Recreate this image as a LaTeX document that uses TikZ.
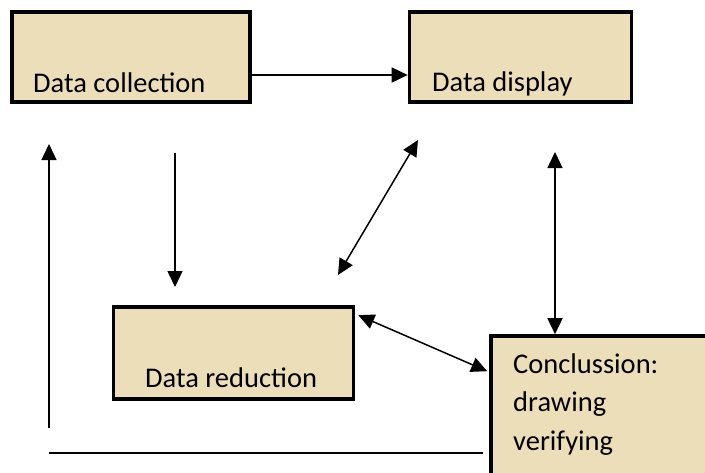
\documentclass[tikz,border=0pt]{standalone}
\usepackage{fontspec}
\setmainfont{Carlito}
\usetikzlibrary{arrows.meta,positioning,calc}
\definecolor{parch}{RGB}{237,222,186}
\definecolor{zw}{RGB}{0,0,0}

\begin{document}
\begin{tikzpicture}[x=1pt,y=-1pt,
    box/.style={draw=zw,fill=parch,line width=3.6pt,inner sep=0pt},
    lbl/.style={anchor=base west,font=\fontsize{28.5}{38.5}\selectfont,inner sep=0pt},
    conn/.style={line width=1.5pt,-{Triangle[length=16pt,width=15pt]}},
    conn2/.style={line width=1.5pt,{Triangle[length=16pt,width=15pt]}-{Triangle[length=16pt,width=15pt]}}]
  \useasboundingbox (0,0) rectangle (705,472);
  \clip (0,0) rectangle (705,472);

  % boxes
  \node[box,minimum width=238pt,minimum height=90pt] (coll) at (131,57) {};
  \node[box,minimum width=222pt,minimum height=90pt] (disp) at (520.5,57) {};
  \node[box,minimum width=240pt,minimum height=92pt] (red) at (233.5,353) {};
  \node[box,minimum width=240pt,minimum height=160pt] (concl) at (611,416) {};

  \node[lbl] (tcoll) at (33,92) {Data collection};
  \node[lbl] (tdisp) at (432,91) {Data display};
  \node[lbl] (tred) at (145,387) {Data reduction};
  \node[lbl,align=left] (tconcl) at (513,450) {Conclussion:\\drawing\\verifying};

  % free ends
  \coordinate (c1) at (175,153);
  \coordinate (c2) at (175,287);
  \coordinate (c3) at (418,140);
  \coordinate (c4) at (338,275);
  \coordinate (c5) at (555,152);
  \coordinate (c6) at (49,144);
  \coordinate (c7) at (49,428);
  \coordinate (c8) at (483,453);

  % connectors
  \draw[conn] (coll.east |- 0,75) -- (disp.west |- 0,75);
  \draw[conn] (c1) -- (c2);
  \draw[conn2] (c3) -- (c4);
  \draw[conn2] (c5) -- (c5 |- concl.north);
  \draw[conn2] ($(red.north east)+(3,10)$) -- ($(concl.north west)+(-2,37)$);
  \draw[conn] (c7) -- (c6);
  \draw[line width=1.5pt] (c7 |- c8) -- (c8);
\end{tikzpicture}
\end{document}
